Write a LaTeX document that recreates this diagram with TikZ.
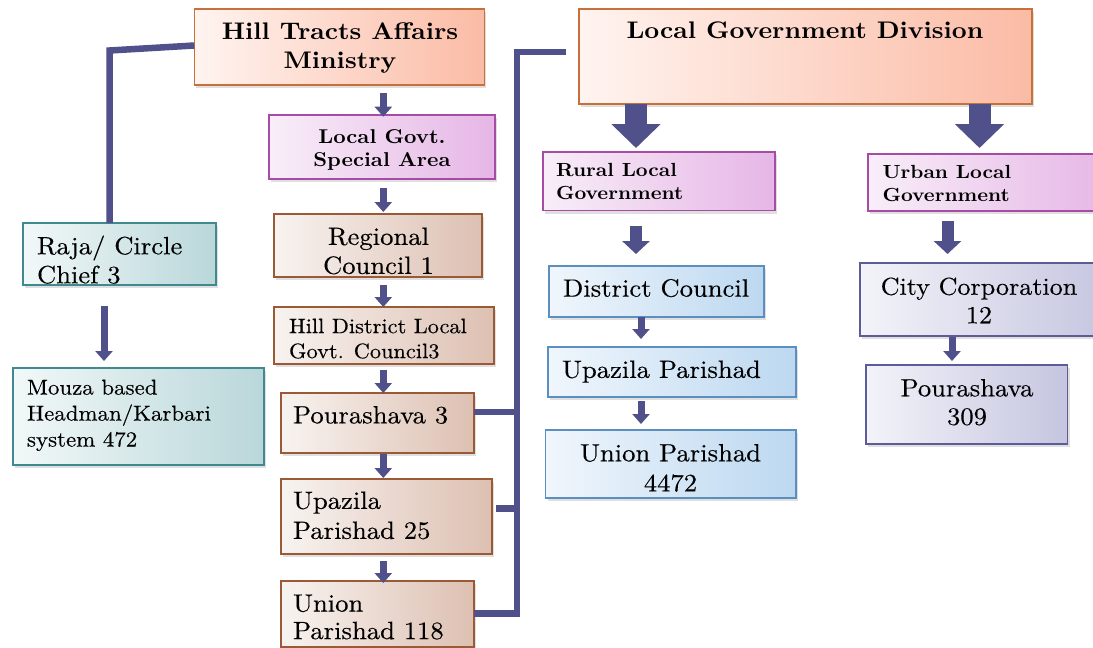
\documentclass[tikz,border=0pt]{standalone}
\usepackage{fontspec}
\setmainfont{lmroman10-regular.otf}[BoldFont=lmroman10-bold.otf, FakeStretch=1.065, FakeBold=0.3, BoldFeatures={FakeStretch=1.08, FakeBold=0}]
\usetikzlibrary{arrows.meta,shadows}
\definecolor{navy}{HTML}{50508A}
\definecolor{bO}{HTML}{C8703A}\definecolor{fO1}{HTML}{FFF4F0}\definecolor{fO2}{HTML}{FBBBA5}
\definecolor{bP}{HTML}{A64CA6}\definecolor{fP1}{HTML}{F8EEF8}\definecolor{fP2}{HTML}{E6B6E6}
\definecolor{bB}{HTML}{9A5A36}\definecolor{fB1}{HTML}{F8F3F0}\definecolor{fB2}{HTML}{DDC0B2}
\definecolor{bT}{HTML}{3E8A90}\definecolor{fT1}{HTML}{F2F8F8}\definecolor{fT2}{HTML}{B9D7DA}
\definecolor{bL}{HTML}{5A8FC0}\definecolor{fL1}{HTML}{F0F6FC}\definecolor{fL2}{HTML}{BCD8F0}
\definecolor{bV}{HTML}{5C5C98}\definecolor{fV1}{HTML}{F3F3F9}\definecolor{fV2}{HTML}{C5C5E0}
\begin{document}
\begin{tikzpicture}[x=1pt,y=-1pt,
  box/.style={draw, line width=1.2pt, inner sep=0pt, outer sep=0pt,
    drop shadow={shadow xshift=2pt,shadow yshift=-3pt,opacity=0.25}},
  obox/.style={box, draw=bO, left color=fO1, right color=fO2},
  pbox/.style={box, draw=bP, left color=fP1, right color=fP2},
  brbox/.style={box, draw=bB, left color=fB1, right color=fB2},
  tbox/.style={box, draw=bT, left color=fT1, right color=fT2},
  lbbox/.style={box, draw=bL, left color=fL1, right color=fL2},
  vbox/.style={box, draw=bV, left color=fV1, right color=fV2},
  txl/.style={inner sep=0pt, outer sep=0pt, anchor=north west, align=left},
  txc/.style={inner sep=0pt, outer sep=0pt, anchor=north, align=center},
  body/.style={font=\fontsize{25}{29}\selectfont},
  conn/.style={draw=navy, line width=6.5pt},
  sarrow/.style={draw=navy, line width=7pt, -{Triangle[width=17pt,length=10pt]}},
  marrow/.style={draw=navy, line width=12pt, -{Triangle[width=27pt,length=13pt]}},
  barrow/.style={draw=navy, line width=22pt, -{Triangle[width=48pt,length=24pt]}}
]
\clip (0,0) rectangle (1093,648);
\fill[white] (0,0) rectangle (1093,648);

% boxes
\node[obox, minimum width=290pt, minimum height=76pt] (hta) at (339.3,47) {};
\node[pbox, minimum width=226pt, minimum height=64pt] (lgsa) at (382,147) {};
\node[obox, minimum width=453pt, minimum height=95pt] (lgd) at (805.5,56.5) {};
\node[pbox, minimum width=232pt, minimum height=58.5pt] (rural) at (659,181.25) {};
\node[pbox, minimum width=242pt, minimum height=57pt] (urban) at (989,182.5) {};
\node[brbox, minimum width=208pt, minimum height=63pt] (rc) at (378,245.5) {};
\node[brbox, minimum width=220pt, minimum height=57pt] (hd) at (384,335.5) {};
\node[brbox, minimum width=193pt, minimum height=60pt] (p3) at (377.5,423) {};
\node[brbox, minimum width=211pt, minimum height=75pt] (up25) at (386.5,516.5) {};
\node[brbox, minimum width=193pt, minimum height=66pt] (u118) at (377.5,614) {};
\node[tbox, minimum width=193pt, minimum height=62pt] (raja) at (119.5,254) {};
\node[tbox, minimum width=251pt, minimum height=97pt] (mouza) at (138.5,416.5) {};
\node[lbbox, minimum width=215pt, minimum height=51pt] (dc) at (656.5,291.5) {};
\node[lbbox, minimum width=248pt, minimum height=50pt] (upp) at (672,372) {};
\node[lbbox, minimum width=250.5pt, minimum height=68pt] (u4472) at (670.75,464) {};
\node[vbox, minimum width=250pt, minimum height=73pt] (cc) at (985,299.5) {};
\node[vbox, minimum width=201.5pt, minimum height=79pt] (p309) at (966.75,404.5) {};

% texts
\node[txc, font=\bfseries\fontsize{24}{29}\selectfont] (hta-t) at (340,22.5) {Hill Tracts Affairs\\Ministry};
\node[txc, font=\bfseries\fontsize{24}{29}\selectfont] (lgd-t) at (805,21.5) {Local Government Division};
\node[txc, font=\bfseries\fontsize{20}{23.5}\selectfont] (lgsa-t) at (382,129.3) {Local Govt.\\Special Area};
\node[txl, font=\bfseries\fontsize{19}{23.3}\selectfont] (rural-t) at (556,163.4) {Rural Local\\Government};
\node[txl, font=\bfseries\fontsize{19}{23.3}\selectfont] (urban-t) at (882.5,165) {Urban Local\\Government};
\node[txc, body] (rc-t) at (378.5,227.5) {Regional\\Council 1};
\node[txl, font=\fontsize{21}{25}\selectfont] (hd-t) at (289,318.6) {Hill District Local\\Govt. Council3};
\node[txl, body] (p3-t) at (293,406) {Pourashava 3};
\node[txl, font=\fontsize{25}{30}\selectfont] (up25-t) at (293,491.5) {Upazila\\Parishad 25};
\node[txl, font=\fontsize{25}{27.5}\selectfont] (u118-t) at (293,594.5) {Union\\Parishad 118};
\node[txl, body] (raja-t) at (37,235.5) {Raja/ Circle\\Chief 3};
\node[txl, font=\fontsize{21.5}{26}\selectfont] (mouza-t) at (27,379.6) {Mouza based\\Headman/Karbari\\system 472};
\node[txl, body] (dc-t) at (563,279) {District Council};
\node[txl, body] (upp-t) at (562,360.5) {Upazila Parishad};
\node[txc, font=\fontsize{25}{30}\selectfont] (u4472-t) at (670.5,444) {Union Parishad\\4472};
\node[txc, font=\fontsize{24.5}{28.5}\selectfont] (cc-t) at (979,277.5) {City Corporation\\12};
\node[txc, font=\fontsize{25}{28.5}\selectfont] (p309-t) at (967,379) {Pourashava\\309};

% column coordinates
\coordinate (colH) at (383.3,0);
\coordinate (colR) at (104,0);
\coordinate (colRu) at (641,0);
\coordinate (colRuT) at (636,0);
\coordinate (colUB) at (979.5,0);
\coordinate (colUM) at (947.5,0);
\coordinate (colUS) at (952,0);

% connectors
\coordinate (hbend) at (109.5,50.5);
\draw[conn] ([yshift=1.5pt]hta.west) -- (hbend) -- (hbend |- raja.north);
\coordinate (btop) at (517,52);
\coordinate (bbot) at (517,613.3);
\draw[conn] ([xshift=-13pt]lgd.west |- btop) -- (btop) -- (bbot) -- (bbot -| u118.east);
\draw[conn] ([yshift=11pt]p3.east) -- ([yshift=11pt]p3.east -| btop);
\draw[conn] ([xshift=4pt,yshift=8pt]up25.east) -- ([yshift=8pt]up25.east -| btop);

% arrows
\draw[sarrow] ([yshift=-8pt]hta.south -| colH) -- ([yshift=-1.7pt]lgsa.north -| colH);
\draw[sarrow] ([yshift=-9pt]lgsa.south -| colH) -- ([yshift=2pt]rc.north -| colH);
\draw[sarrow] ([yshift=-8pt]rc.south -| colH) -- (hd.north -| colH);
\draw[sarrow] ([yshift=-6pt]hd.south -| colH) -- (p3.north -| colH);
\draw[sarrow] ([yshift=-1pt]p3.south -| colH) -- ([yshift=1pt]up25.north -| colH);
\draw[sarrow] ([yshift=-7pt]up25.south -| colH) -- ([yshift=-2pt]u118.north -| colH);
\draw[sarrow] ([yshift=-21pt]raja.south -| colR) -- ([yshift=7pt]mouza.north -| colR);
\draw[sarrow] (dc.south -| colRu) -- ([yshift=8pt]upp.north -| colRu);
\draw[sarrow] ([yshift=-4pt]upp.south -| colRu) -- ([yshift=6pt]u4472.north -| colRu);
\draw[sarrow] ([yshift=-1pt]cc.south -| colUS) -- ([yshift=4pt]p309.north -| colUS);
\draw[marrow] ([yshift=-15.5pt]rural.south -| colRuT) -- ([yshift=12pt]dc.north -| colRuT);
\draw[marrow] ([yshift=-9.7pt]urban.south -| colUM) -- ([yshift=9pt]cc.north -| colUM);
\draw[barrow] (lgd.south -| colRuT) -- ([yshift=4pt]rural.north -| colRuT);
\draw[barrow] (lgd.south -| colUB) -- ([yshift=6pt]urban.north -| colUB);
\end{tikzpicture}
\end{document}
